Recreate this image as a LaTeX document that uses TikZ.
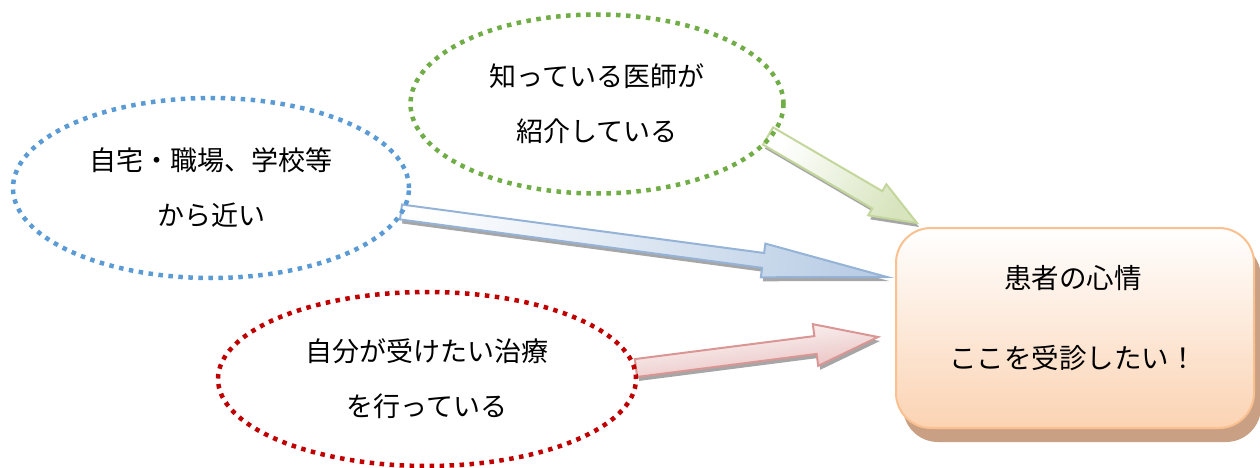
\documentclass[tikz,border=0pt]{standalone}
\usepackage{fontspec}
\newfontfamily\jp{Noto Sans CJK JP}
\usetikzlibrary{shapes.geometric,calc}
\definecolor{bdot}{HTML}{5B9BD5}
\definecolor{gdot}{HTML}{70AD47}
\definecolor{rdot}{HTML}{C00000}
\definecolor{bline}{HTML}{95B3D7}
\definecolor{bfill}{HTML}{B9CDE5}
\definecolor{gline}{HTML}{C3D69B}
\definecolor{gfill}{HTML}{D7E4BD}
\definecolor{rline}{HTML}{D99694}
\definecolor{rfill}{HTML}{E6B9B8}
\definecolor{oline}{HTML}{FAC090}
\definecolor{ofill}{HTML}{FBD3B3}
\definecolor{oshadow}{HTML}{C9A083}
\definecolor{ashadow}{HTML}{A6A6A6}
\newcommand\blockarrow[6]{%
  \coordinate (#1-b) at ($(#2)!#5!(#1)$);
  \path[#6] ($(#1)!#3!90:(#2)$) -- ($(#1-b)!#3!90:(#2)$) -- ($(#1-b)!#4!90:(#2)$)
    -- (#2) -- ($(#1-b)!#4!-90:(#2)$) -- ($(#1-b)!#3!-90:(#2)$) -- ($(#1)!#3!-90:(#2)$) -- cycle;}
\tikzset{
  bubble/.style={ellipse, inner sep=0pt, line width=4.5pt, dash pattern=on 4.5pt off 5.5pt,
    align=center, font=\jp\fontsize{27}{55}\selectfont, text=black},
  box/.style={rectangle, rounded corners=35pt, minimum width=358pt, minimum height=200pt,
    draw=oline, line width=2pt, top color=white, bottom color=ofill},
  boxshadow/.style={rectangle, rounded corners=35pt, minimum width=358pt, minimum height=200pt,
    fill=oshadow},
  boxtext/.style={align=center, font=\jp\fontsize{27.5}{80}\selectfont, text=black},
  arrshadow/.style={fill=ashadow, transform canvas={shift={(2pt,-4pt)}}},
}
\begin{document}
\begin{tikzpicture}[x=1pt,y=-1pt]
\useasboundingbox (0,0) rectangle (1260,468);
% box
\node[boxshadow] (boxsh) at (1082,342) {};
\node[box] (box) at (1075,328) {};
\node[boxtext] (boxtxt) at (1073,318) {患者の心情\\ここを受診したい！};
% arrow end points
\coordinate (gT) at (768,136);
\coordinate (gP) at (917,223);
\coordinate (bT) at (401,212);
\coordinate (bP) at (887,277);
\coordinate (rT) at (636,368);
\coordinate (rP) at (878,337);
% shadows
\blockarrow{gT}{gP}{10pt}{18pt}{46pt}{arrshadow}
\blockarrow{bT}{bP}{7.5pt}{17pt}{125pt}{arrshadow}
\blockarrow{rT}{rP}{9pt}{21pt}{63pt}{arrshadow}
% arrows
\blockarrow{gT}{gP}{10pt}{18pt}{46pt}{draw=gline, line width=2pt, line join=miter, left color=white, right color=gfill, shading angle=59.7}
\blockarrow{bT}{bP}{7.5pt}{17pt}{125pt}{draw=bline, line width=2pt, line join=miter, left color=white, right color=bfill, shading angle=82.4}
\blockarrow{rT}{rP}{9pt}{21pt}{63pt}{draw=rline, line width=2pt, line join=miter, top color=white, bottom color=rfill, shading angle=7.3}
% bubbles
\node[bubble, draw=gdot, minimum width=373pt, minimum height=179pt] (know) at (597,104) {知っている医師が\\紹介している};
\node[bubble, draw=bdot, minimum width=396pt, minimum height=180pt] (near) at (211,188) {自宅・職場、学校等\\から近い};
\node[bubble, draw=rdot, minimum width=418pt, minimum height=174pt] (treat) at (427,379) {自分が受けたい治療\\を行っている};
\end{tikzpicture}
\end{document}
